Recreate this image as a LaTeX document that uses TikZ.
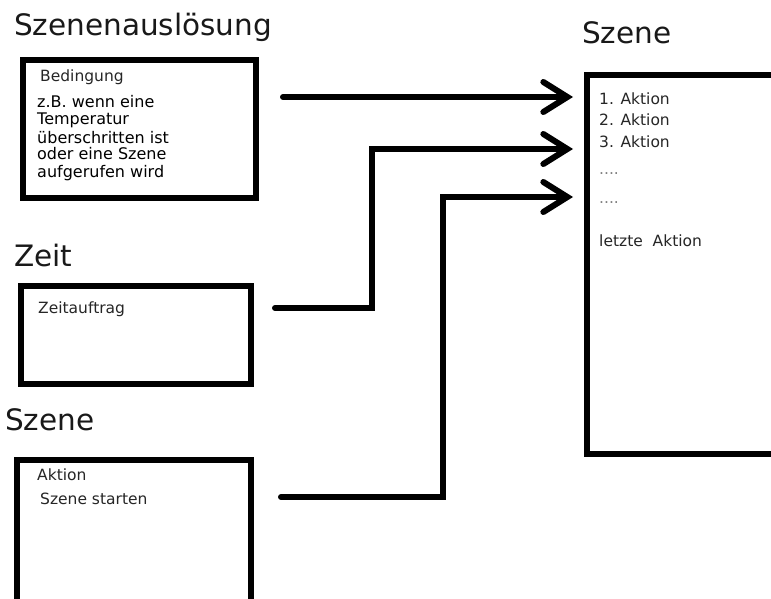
\documentclass[tikz,border=0pt]{standalone}
\usepackage{fontspec}
\setmainfont{DejaVu Sans}
\usetikzlibrary{arrows.meta}
\begin{document}
\begin{tikzpicture}[x=1pt,y=1pt,
  box/.style={draw=black, line width=6.5pt, inner sep=0pt, outer sep=0pt, fill=white, anchor=north west},
  title/.style={anchor=base west, inner sep=0pt, font=\fontsize{29.5}{32}\selectfont, text=black!90},
  txt/.style={anchor=base west, inner sep=0pt, font=\fontsize{15.5}{17}\selectfont, text=black!85},
  btxt/.style={txt, font=\fontsize{16}{17}\selectfont, text=black},
  dots/.style={txt, text=black!50},
  conn/.style={line width=6pt, line cap=round, line join=miter, -{Straight Barb[length=24pt,width=30pt,line cap=round]}},
]
\clip (0,0) rectangle (771,-599);
\fill[white] (0,0) rectangle (771,-599);

% titles
\node[title] (t1) at (14,-36) {Szenenauslösung};
\node[title] (t2) at (14,-266) {Zeit};
\node[title] (t3) at (5,-430) {Szene};
\node[title] (t4) at (582,-44) {Szene};

% boxes
\node[box, minimum width=233pt, minimum height=138pt] (b1) at (23,-60) {};
\node[box, minimum width=230pt, minimum height=98pt] (b2) at (21,-286) {};
\node[box, minimum width=234pt, minimum height=175pt] (b3) at (17,-460) {};
\node[box, minimum width=220pt, minimum height=379pt] (scene) at (587,-75) {};

% box 1 text
\node[txt] (b1a) at (40,-82) {Bedingung};
\node[btxt] (b1b) at (37,-108) {z.B. wenn eine};
\node[btxt] (b1c) at (37,-125) {Temperatur};
\node[btxt] (b1d) at (37,-143) {überschritten ist};
\node[btxt] (b1e) at (37,-160) {oder eine Szene};
\node[btxt] (b1f) at (37,-177) {aufgerufen wird};

% box 2 text
\node[txt] (b2a) at (38,-313) {Zeitauftrag};

% box 3 text
\node[txt] (b3a) at (37,-480) {Aktion};
\node[txt] (b3b) at (40,-504) {Szene starten};

% scene text
\node[txt] (s1) at (599,-105) {1. Aktion};
\node[txt] (s2) at (599,-126) {2. Aktion};
\node[txt] (s3) at (599,-148) {3. Aktion};
\node[dots] (s4) at (599,-175) {....};
\node[dots] (s5) at (599,-203) {....};
\node[txt] (s6) at (599,-246) {letzte\ \ Aktion};

% connectors
\coordinate (a1s) at (283,-97);
\coordinate (a2s) at (275,-308);
\coordinate (a2k) at (372,-149);
\coordinate (a3s) at (281,-497);
\coordinate (a3k) at (443,-197);
\draw[conn] (a1s) -- ([xshift=-14pt]scene.west |- a1s);
\draw[conn] (a2s) -| (a2k) -- ([xshift=-14pt]scene.west |- a2k);
\draw[conn] (a3s) -| (a3k) -- ([xshift=-14pt]scene.west |- a3k);
\end{tikzpicture}
\end{document}
